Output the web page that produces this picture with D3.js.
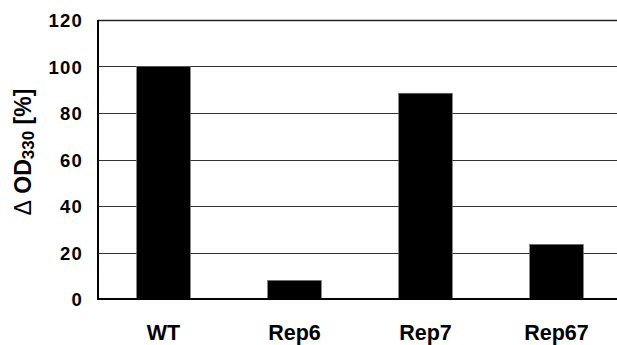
<!DOCTYPE html>
<html>
<head>
<meta charset="utf-8">
<script src="https://cdn.jsdelivr.net/npm/d3@7"></script>
<style>
  body { margin: 0; background: #fff; }
  text { font-family: "Liberation Sans", Arial, sans-serif; font-weight: bold; }
</style>
</head>
<body>
<div class="ChartWrapper"></div>
<script>
const categories = ['WT', 'Rep6', 'Rep7', 'Rep67'];
const values = [100, 8, 88.5, 23.5];
const yTicks = [0, 20, 40, 60, 80, 100, 120];

const W = 617, H = 345;
const M = { top: 20, left: 98, bottom: 46, right: -5 };

const svg = d3.select('.ChartWrapper')
  .append('svg')
  .attr('width', W)
  .attr('height', H);

const x = d3.scaleBand()
  .domain(categories)
  .range([M.left, W - M.right])
  .paddingInner(0.59)
  .paddingOuter(0.295);

const y = d3.scaleLinear()
  .domain([0, 120])
  .range([H - M.bottom, M.top]);

// gridlines
svg.append('g')
  .selectAll('line')
  .data(yTicks.filter(d => d > 0))
  .enter()
  .append('line')
  .attr('x1', M.left)
  .attr('x2', W)
  .attr('y1', d => Math.round(y(d)) + 0.5)
  .attr('y2', d => Math.round(y(d)) + 0.5)
  .attr('stroke', d => d === 120 ? '#222' : '#333')
  .attr('stroke-width', d => d === 120 ? 1.6 : 1);

// bars
svg.append('g')
  .selectAll('rect')
  .data(values)
  .enter()
  .append('rect')
  .attr('x', (d, i) => x(categories[i]))
  .attr('width', x.bandwidth())
  .attr('y', d => y(d))
  .attr('height', d => y(0) - y(d))
  .attr('fill', '#000')
  .attr('stroke', '#777')
  .attr('stroke-width', 0.6);

// y axis
const yAxis = svg.append('g')
  .attr('transform', `translate(${M.left},0)`)
  .call(d3.axisLeft(y).tickValues(yTicks).tickSize(0).tickPadding(15));
yAxis.select('.domain').remove();
yAxis.selectAll('text')
  .attr('font-size', 18.5)
  .attr('letter-spacing', 1.2)
  .attr('fill', '#000')
  .attr('dy', '0.36em');

svg.append('line')
  .attr('x1', M.left).attr('x2', M.left)
  .attr('y1', M.top).attr('y2', y(0) + 1)
  .attr('stroke', '#000').attr('stroke-width', 2);
svg.append('line')
  .attr('x1', M.left - 1).attr('x2', W)
  .attr('y1', y(0)).attr('y2', y(0))
  .attr('stroke', '#000').attr('stroke-width', 2);

// x axis labels
const xAxis = svg.append('g')
  .attr('transform', `translate(0,${y(0)})`)
  .call(d3.axisBottom(x).tickSize(0).tickPadding(26));
xAxis.select('.domain').remove();
xAxis.selectAll('text')
  .attr('font-size', 21.5)
  .attr('fill', '#000');

// y axis title
const title = svg.append('text')
  .attr('transform', `translate(31,${152}) rotate(-90)`)
  .attr('text-anchor', 'middle')
  .attr('font-size', 23)
  .attr('fill', '#000');
title.append('tspan').attr('font-weight', 'normal').text('\u0394');
title.append('tspan').text(' OD');
title.append('tspan').attr('font-size', 17).attr('dy', 3).text('330');
title.append('tspan').attr('dy', -3).text(' [%]');
</script>
</body>
</html>
